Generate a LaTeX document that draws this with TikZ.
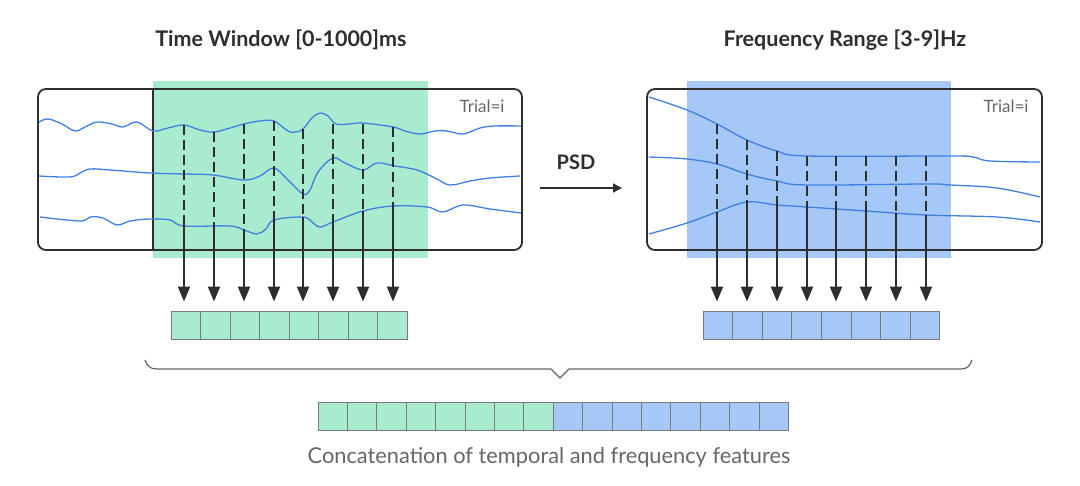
\documentclass[tikz,border=0pt]{standalone}
\usepackage{fontspec}
\setmainfont{Lato}
\usetikzlibrary{arrows.meta}
\definecolor{gfill}{HTML}{A8EBCF}
\definecolor{bfill}{HTML}{A6C8F8}
\definecolor{wave}{HTML}{3F7FE0}
\definecolor{ink}{HTML}{2E2E2E}
\definecolor{cellline}{HTML}{7A7A7A}
\definecolor{txtgray}{HTML}{666666}
\tikzset{
  panel/.style={draw=ink, line width=1.8pt, rounded corners=8pt},
  wavy/.style={draw=wave, line width=1.3pt},
  dashline/.style={draw=ink, line width=2.6pt, dash pattern=on 10pt off 5pt},
  downarrow/.style={draw=ink, line width=2.2pt, -{Triangle[length=15pt,width=12pt]}, shorten >=9pt},
  gcell/.style={draw=cellline, line width=0.9pt, fill=gfill, minimum width=29.5pt, minimum height=28pt, inner sep=0pt},
  bcell/.style={draw=cellline, line width=0.9pt, fill=bfill, minimum width=29.5pt, minimum height=28pt, inner sep=0pt},
  title/.style={font=\bfseries\fontsize{21.5}{24}\selectfont, text=ink},
  trial/.style={font=\fontsize{17}{19}\selectfont, text=txtgray},
}
\begin{document}
\begin{tikzpicture}[x=1pt,y=-1pt]
\useasboundingbox (0,0) rectangle (1080,486);
% titles
\node[title] (t1) at (281,40) {Time Window [0-1000]ms};
\node[title] (t2) at (845,40) {Frequency Range [3-9]Hz};
% left panel
\fill[gfill] (153,81) rectangle (428,258);
\draw[panel] (38,89) rectangle (522,250);
\draw[draw=ink, line width=1.8pt] (153,89) -- (153,250);
\node[trial, anchor=east] (tr1) at (508,106) {Trial=i};
\draw[wavy] plot[smooth, tension=0.6] coordinates {(39,122) (48,119) (62,124) (75,131) (85,127) (97,122) (112,124) (123,127) (137,122) (153,131) (168,128) (184,125) (200,130) (214,132) (230,128) (244,124) (260,121) (274,121) (288,131) (296,132) (303,129) (312,118) (320,113) (328,116) (336,124) (350,124) (363,123) (393,127) (405,131) (420,134) (435,131) (447,131) (463,134) (480,128) (495,126) (521,126)};
\draw[wavy] plot[smooth, tension=0.6] coordinates {(39,176) (70,177) (80,173) (90,169) (110,170) (150,173) (184,174) (213,175) (244,180) (260,176) (274,168) (288,180) (303,194) (310,190) (318,172) (333,158) (345,163) (363,170) (377,163) (395,166) (417,170) (435,178) (450,185) (470,181) (490,178) (520,176)};
\draw[wavy] plot[smooth, tension=0.6] coordinates {(40,217) (80,221) (90,217) (103,218) (117,225) (130,221) (150,219) (170,220) (184,226) (230,226) (244,230) (257,234) (266,229) (274,220) (303,217) (312,222) (320,227) (333,222) (363,211) (393,206) (427,207) (443,212) (463,205) (490,209) (521,213)};
% right panel
\fill[bfill] (687,81) rectangle (951,258);
\draw[panel] (647,89) rectangle (1042,250);
\node[trial, anchor=east] (tr2) at (1032,106) {Trial=i};
\draw[wavy] plot[smooth, tension=0.6] coordinates {(649,97) (687,110) (717,124) (747,140) (777,151) (807,156) (950,156) (973,157) (990,161) (1040,162)};
\draw[wavy] plot[smooth, tension=0.6] coordinates {(649,157) (687,159) (717,164) (747,174) (777,181) (807,185) (926,184) (950,185) (997,188) (1040,197)};
\draw[wavy] plot[smooth, tension=0.6] coordinates {(649,234) (687,223) (717,212) (747,202) (777,205) (807,207) (866,211) (926,215) (997,217) (1040,222)};
% cells
\foreach \i in {1,...,8} {
  \node[gcell] (L\i) at ({185.75+29.5*(\i-1)},325) {};
  \node[bcell] (R\i) at ({717.8+29.6*(\i-1)},325) {};
  \node[gcell] (C\i) at ({332.7+29.4*(\i-1)},416) {};
  \node[bcell] (D\i) at ({567.9+29.4*(\i-1)},416) {};
}
% left sample lines
\foreach \x/\t/\b [count=\i] in {184/125/225, 214/132/226, 244/124/229, 274/121/220, 303/129/217, 333/124/222, 363/124/211, 393/127/206} {
  \coordinate (tL\i) at (\x,\t);
  \coordinate (bL\i) at (\x,\b);
  \draw[dashline] (tL\i) -- (bL\i);
  \draw[downarrow] (bL\i) -- (bL\i |- L\i.north);
}
% right sample lines
\foreach \x/\t/\b [count=\i] in {717/124/212, 747/140/202, 777/151/205, 807/156/207, 836/156/209, 866/156/211, 896/156/213, 926/156/215} {
  \coordinate (tR\i) at (\x,\t);
  \coordinate (bR\i) at (\x,\b);
  \draw[dashline] (tR\i) -- (bR\i);
  \draw[downarrow] (bR\i) -- (bR\i |- R\i.north);
}
% PSD
\node[font=\bfseries\fontsize{20}{22}\selectfont, text=ink] (psd) at (576,162) {PSD};
\coordinate (pa) at (540,188);
\coordinate (pb) at (622,188);
\draw[draw=ink, line width=1.5pt, -{Triangle[length=9pt,width=9pt]}] (pa) -- (pb);
% brace
\draw[draw=txtgray, line width=1.2pt] (145,360) .. controls (147,366) and (150,369) .. (157,369) -- (551,369) -- (560,378) -- (569,369) -- (961,369) .. controls (967,369) and (970,366) .. (972,360);
% caption
\node[font=\fontsize{21.8}{24}\selectfont, text=txtgray] (cap) at (549,457) {Concatenation of temporal and frequency features};
\end{tikzpicture}
\end{document}
